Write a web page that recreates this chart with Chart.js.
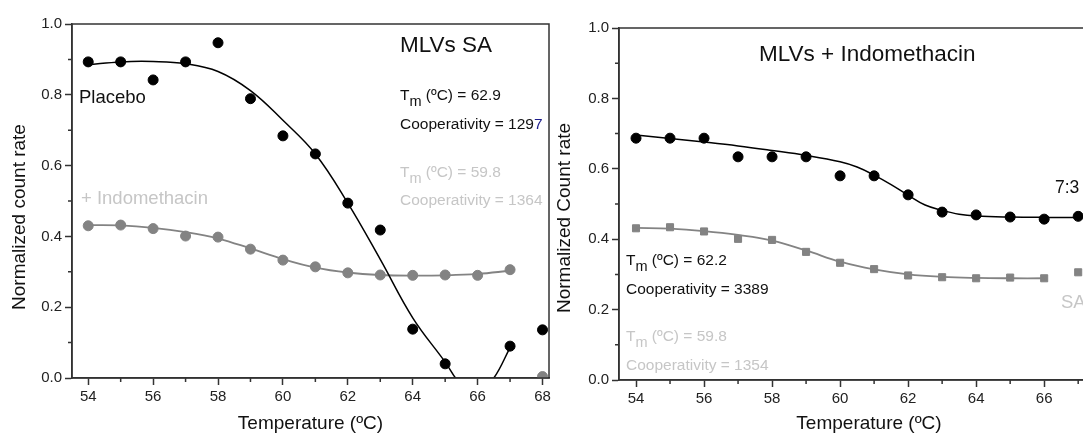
<!DOCTYPE html>
<html>
<head>
<meta charset="utf-8">
<script src="https://cdn.jsdelivr.net/npm/chart.js@4"></script>
<style>
html, body { margin: 0; padding: 0; background: #fff; overflow: hidden; width: 1083px; height: 437px; }
#left { position: absolute; left: 0; top: 0; width: 555px; height: 437px; }
#right { position: absolute; left: 550px; top: 0; width: 582px; height: 437px; }
</style>
</head>
<body>
<div id="left"><canvas id="chartSA"></canvas></div>
<div id="right"><canvas id="chartIndo"></canvas></div>
<script>
// temperatures (ºC)
const temps = [54, 55, 56, 57, 58, 59, 60, 61, 62, 63, 64, 65, 66, 67, 68];
const xTicks = [54, 56, 58, 60, 62, 64, 66, 68];
const yTicks = [0, 0.2, 0.4, 0.6, 0.8, 1.0];

// left panel: MLVs SA
const placeboSA = [0.893, 0.893, 0.842, 0.893, 0.947, 0.789, 0.684, 0.633, 0.494, 0.418, 0.138, 0.040, null, 0.090, 0.136];
const indoSA = [0.430, 0.432, 0.422, 0.401, 0.398, 0.364, 0.333, 0.314, 0.297, 0.291, 0.290, 0.291, 0.290, 0.306, 0.004];
const fitPlaceboX = [54, 55, 56, 57, 58, 59, 60, 61, 62, 63, 64, 65, 65.4, 65.9, 66.5, 67];
const fitPlaceboY = [0.885, 0.893, 0.894, 0.888, 0.866, 0.812, 0.728, 0.633, 0.494, 0.335, 0.170, 0.045, -0.01, -0.06, 0.0, 0.086];
const fitIndoSAX = [54, 55, 56, 57, 58, 59, 60, 61, 62, 63, 64, 65, 66, 67];
const fitIndoSAY = [0.432, 0.431, 0.424, 0.412, 0.394, 0.366, 0.336, 0.312, 0.298, 0.291, 0.289, 0.290, 0.294, 0.303];

// right panel: MLVs + Indomethacin
const mix73 = [0.687, 0.687, 0.687, 0.634, 0.634, 0.634, 0.580, 0.580, 0.526, 0.477, 0.469, 0.463, 0.457, 0.465];
const saSquares = [0.431, 0.434, 0.422, 0.401, 0.398, 0.364, 0.333, 0.315, 0.297, 0.292, 0.289, 0.291, 0.289, 0.306];
const fitMixX = [54, 55, 56, 57, 58, 59, 60, 60.5, 61, 61.5, 62, 62.5, 63, 63.5, 64, 65, 66, 67];
const fitMixY = [0.696, 0.686, 0.676, 0.665, 0.652, 0.638, 0.620, 0.605, 0.582, 0.555, 0.525, 0.497, 0.482, 0.471, 0.466, 0.463, 0.462, 0.462];
const fitSqX = [54, 55, 56, 57, 58, 59, 60, 61, 62, 63, 64, 65, 66];
const fitSqY = [0.432, 0.430, 0.423, 0.412, 0.396, 0.368, 0.336, 0.314, 0.300, 0.293, 0.290, 0.289, 0.289];

const BLACK = '#000';
const GRAY = '#838383';
const LIGHT = '#c6c6c6';
const AXIS = '#333';
const FONT = '"Liberation Sans", Arial, sans-serif';

const pts = (xs, ys) => xs.map((x, i) => ({ x: x, y: ys[i] }));

function drawTm(ctx, x, y, value, color) {
  ctx.fillStyle = color;
  ctx.textBaseline = 'alphabetic';
  ctx.textAlign = 'left';
  ctx.font = '15.5px ' + FONT;
  ctx.fillText('T', x, y);
  let w = ctx.measureText('T').width;
  ctx.font = '14.5px ' + FONT;
  ctx.fillText('m', x + w, y + 6);
  w += ctx.measureText('m').width;
  ctx.font = '15.5px ' + FONT;
  ctx.fillText(' (ºC) = ' + value, x + w, y);
}

function txt(ctx, s, x, y, size, color) {
  ctx.font = size + 'px ' + FONT;
  ctx.fillStyle = color;
  ctx.textAlign = 'left';
  ctx.textBaseline = 'alphabetic';
  ctx.fillText(s, x, y);
}

function yTitle(ctx, s, x, y) {
  ctx.save();
  ctx.translate(x, y);
  ctx.rotate(-Math.PI / 2);
  ctx.font = '19px ' + FONT;
  ctx.fillStyle = '#111';
  ctx.textAlign = 'center';
  ctx.textBaseline = 'middle';
  ctx.fillText(s, 0, 0);
  ctx.restore();
}

// frame + minor ticks
const framePlugin = {
  id: 'frame',
  afterDraw(chart) {
    const { ctx, chartArea: a, scales: { x, y } } = chart;
    ctx.save();
    ctx.strokeStyle = AXIS;
    ctx.lineWidth = 1.5;
    ctx.strokeRect(a.left, a.top, a.right - a.left, a.bottom - a.top);
    ctx.beginPath();
    for (let v = 55; v <= 67; v += 2) {
      const px = x.getPixelForValue(v);
      ctx.moveTo(px, a.bottom);
      ctx.lineTo(px, a.bottom + 4);
    }
    for (let v = 0.1; v < 1; v += 0.2) {
      const py = y.getPixelForValue(v);
      ctx.moveTo(a.left, py);
      ctx.lineTo(a.left - 4, py);
    }
    ctx.stroke();
    ctx.restore();
  }
};

function makeOptions(yWidth, xHeight, pad) {
  return {
    responsive: true,
    maintainAspectRatio: false,
    animation: false,
    layout: { padding: pad },
    plugins: { legend: { display: false }, tooltip: { enabled: false } },
    scales: {
      x: {
        type: 'linear',
        min: 53.5,
        max: 68.2,
        afterBuildTicks: s => { s.ticks = xTicks.map(v => ({ value: v })); },
        afterFit: s => { s.height = xHeight; s.paddingLeft = 0; s.paddingRight = 0; },
        ticks: { color: '#222', font: { family: FONT, size: 15 }, padding: 3, maxRotation: 0, autoSkip: false },
        grid: { display: true, drawOnChartArea: false, tickLength: 7, tickColor: AXIS, tickWidth: 1.5 },
        border: { color: AXIS, width: 1.5 },
        title: { display: true, text: 'Temperature (ºC)', color: '#111', font: { family: FONT, size: 19 }, padding: { top: 0, bottom: 1.5 } }
      },
      y: {
        min: 0,
        max: 1.0,
        afterBuildTicks: s => { s.ticks = yTicks.map(v => ({ value: v })); },
        afterFit: s => { s.width = yWidth; s.paddingTop = 0; s.paddingBottom = 0; },
        ticks: { color: '#222', font: { family: FONT, size: 15 }, padding: 3, callback: v => v.toFixed(1) },
        grid: { display: true, drawOnChartArea: false, tickLength: 7, tickColor: AXIS, tickWidth: 1.5 },
        border: { color: AXIS, width: 1.5 }
      }
    }
  };
}

// left chart
const annotSA = {
  id: 'annotSA',
  afterDraw(chart) {
    const ctx = chart.ctx;
    ctx.save();
    yTitle(ctx, 'Normalized count rate', 20, 217);
    txt(ctx, 'MLVs SA', 400, 52, 22.5, '#111');
    txt(ctx, 'Placebo', 79, 103, 18.5, '#111');
    txt(ctx, '+ Indomethacin', 81, 204, 18.5, LIGHT);
    drawTm(ctx, 400, 100, '62.9', '#111');
    txt(ctx, 'Cooperativity = 129', 400, 129, 15.5, '#111');
    const w = ctx.measureText('Cooperativity = 129').width;
    txt(ctx, '7', 400 + w, 129, 15.5, '#1c1c8c');
    drawTm(ctx, 400, 177, '59.8', LIGHT);
    txt(ctx, 'Cooperativity = 1364', 400, 205, 15.5, LIGHT);
    ctx.restore();
  }
};

new Chart(document.getElementById('chartSA'), {
  type: 'scatter',
  data: {
    datasets: [
      { data: pts(fitPlaceboX, fitPlaceboY), showLine: true, borderColor: BLACK, borderWidth: 1.5, pointRadius: 0, tension: 0.4 },
      { data: pts(fitIndoSAX, fitIndoSAY), showLine: true, borderColor: GRAY, borderWidth: 1.8, pointRadius: 0, tension: 0.4 },
      { data: pts(temps, indoSA), backgroundColor: GRAY, borderColor: GRAY, pointRadius: 5 },
      { data: pts(temps, placeboSA), backgroundColor: BLACK, borderColor: BLACK, pointRadius: 5 }
    ]
  },
  options: makeOptions(72, 59, { top: 24, right: 2, left: 0, bottom: 0 }),
  plugins: [framePlugin, annotSA]
});

// right chart
const annotIndo = {
  id: 'annotIndo',
  afterDraw(chart) {
    const ctx = chart.ctx;
    const o = -550; // canvas offset in the page
    ctx.save();
    yTitle(ctx, 'Normalized Count rate', 565 + o, 218);
    txt(ctx, 'MLVs + Indomethacin', 759 + o, 61, 22.5, '#111');
    txt(ctx, '7:3', 1055 + o, 193, 17.5, '#111');
    txt(ctx, 'SA', 1061 + o, 308, 18.5, LIGHT);
    drawTm(ctx, 626 + o, 265, '62.2', '#111');
    txt(ctx, 'Cooperativity = 3389', 626 + o, 294, 15.5, '#111');
    drawTm(ctx, 626 + o, 341, '59.8', LIGHT);
    txt(ctx, 'Cooperativity = 1354', 626 + o, 370, 15.5, LIGHT);
    ctx.restore();
  }
};

new Chart(document.getElementById('chartIndo'), {
  type: 'scatter',
  data: {
    datasets: [
      { data: pts(fitMixX, fitMixY), showLine: true, borderColor: BLACK, borderWidth: 1.5, pointRadius: 0, tension: 0.4 },
      { data: pts(fitSqX, fitSqY), showLine: true, borderColor: GRAY, borderWidth: 1.8, pointRadius: 0, tension: 0.4 },
      { data: pts(temps.slice(0, 14), saSquares), backgroundColor: GRAY, borderColor: GRAY, pointRadius: 5, pointStyle: 'rect' },
      { data: pts(temps.slice(0, 14), mix73), backgroundColor: BLACK, borderColor: BLACK, pointRadius: 5 }
    ]
  },
  options: makeOptions(69, 57, { top: 28, right: 13, left: 0, bottom: 0 }),
  plugins: [framePlugin, annotIndo]
});
</script>
</body>
</html>
